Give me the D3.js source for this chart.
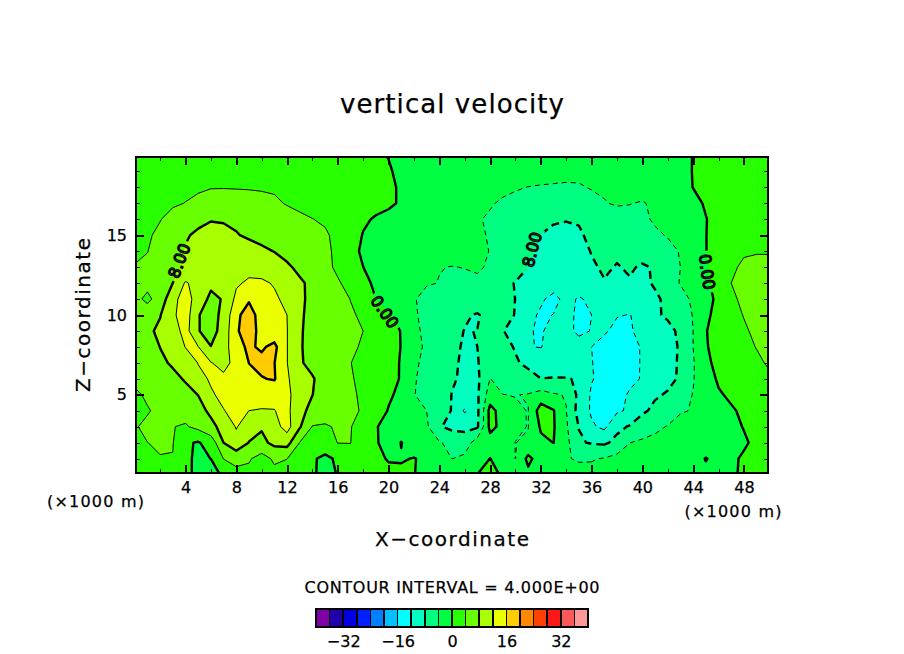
<!DOCTYPE html>
<html>
<head>
<meta charset="utf-8">
<script src="https://cdn.jsdelivr.net/npm/d3@7"></script>
<style>
  body { margin: 0; background: #fff; }
  text { font-family: "DejaVu Sans", sans-serif; fill: #000; stroke: #000; stroke-width: 0.25; }
</style>
</head>
<body>
<svg id="chart" width="904" height="654"></svg>
<script>
// w field, 1 km apart. first row is z=20, last row is z=0, columns x=0..50
var gridRows = [
 [2,2,2,2,2,2,2,2,2,2, 2,2,2,2,2,2,2,2,2,0.5, -0.1,-1,-2,-2,-2,-2,-2,-2,-2,-2, -2,-2,-2,-2,-2,-2,-2,-2,-2,-2, -2,-2,-2,-1,0.1,1,2,2,2,2, 2],
 [2.3,2.5,2.5,2.6,2.7,2.8,2.8,2.8,2.8,2.8, 2.8,2.7,2.6,2.5,2.4,2.2,2,1.6,1.2,0.8, 0.3,-0.7,-1.5,-1.8,-2,-2,-2,-2,-2,-2.2, -2.5,-2.7,-2.9,-3,-3.1,-3.2,-3.1,-3,-2.8,-2.7, -2.5,-2.2,-1.8,-0.9,0.1,1.1,2,2.2,2.2,2.2, 2.2],
 [2.6,2.8,3,3.2,3.5,3.7,3.9,3.9,3.85,3.8, 3.7,3.6,3.4,3.2,3,2.7,2.4,2,1.6,1.1, 0.6,-0.4,-1.4,-2,-2.4,-2.6,-2.8,-3,-3.2,-3.5, -3.8,-4.05,-4.2,-4.3,-4.4,-4.3,-3.8,-3.5,-3.3,-3.2, -2.9,-2.5,-2,-1,0.05,1,2,2.4,2.5,2.5, 2.5],
 [2.8,3,3.3,3.7,4.05,4.5,5,5.2,5.2,5.1, 4.9,4.5,3.8,3.4,3.1,2.8,2.4,2,1.6,1.2, 0.6,-0.4,-1.4,-2,-2.4,-2.7,-3,-3.4,-3.8,-4.3, -4.6,-5,-5.3,-5.6,-5.8,-5.8,-5,-4.2,-3.6,-3.9, -4.2,-3.5,-2.8,-1.8,-0.8,0.3,1.5,2.2,2.5,2.6, 2.6],
 [2.8,3.4,3.9,4.8,5.6,7,7.8,7.7,7.4,7, 6.6,6,5.2,4.5,4.05,3.6,2.8,1.6,0.6,-0.4, -1,-1.5,-1.9,-2.2,-2.6,-3,-3.3,-3.8,-4.3,-5, -5.5,-6.2,-7,-7.5,-7.8,-7.8,-7.4,-6.8,-5.8,-5, -4.6,-3.6,-2.8,-1.8,-1,-0.1,1,2.4,3,3.2, 3.2],
 [3,3.7,4.5,6,7.6,8.7,9.2,8.9,8.2,7.5, 7,6.5,6,5.5,5,4.4,3.2,2,-0.2,-1.2, -1.8,-2.2,-2.5,-2.8,-3,-3.2,-3.4,-3.8,-4.1,-5, -6,-7.2,-8.05,-9,-9.2,-8.3,-7.5,-7,-6.4,-6, -5.2,-4.5,-3.8,-2.8,-1,-0.1,1.9,3,3.3,3.4, 3.4],
 [3.6,3.95,4.9,6.8,8.3,9.6,10.2,10.2,10,9.4, 8.6,7.9,7.2,6.5,5.6,4.5,3.5,1,-0.5,-1.6, -2.2,-2.5,-2.7,-3,-3.1,-3.2,-3.3,-3.5,-4.06,-5.5, -6.5,-7.5,-8.5,-9.5,-10,-9.4,-7.8,-7.2,-7.4,-7, -6.6,-6,-4.9,-3.8,-1.4,-0.1,1.9,3.2,3.8,3.9, 3.9],
 [4.1,4.4,5.5,7.5,8.5,10,11,11.2,11,10.8, 10.4,9.8,8.4,7.4,6.2,5,3.3,1.7,0.02,-1.5, -2.4,-2.8,-3,-3.3,-3.95,-4.05,-3.95,-3.8,-4.2,-6, -7,-8,-9.5,-10,-10.5,-10,-8.5,-7.5,-8.2,-7.6, -8.4,-7.7,-5.6,-4,-2.4,-0.4,1.5,3.7,4.3,4.4, 4.4],
 [4.5,5,6.4,8,12.4,10.6,8.9,9.4,11.5,12.6, 12.6,11.7,10,8.4,7.4,5.6,4.4,2.8,0.9,-0.6, -2,-2.6,-3,-3.8,-4.05,-4.6,-4.4,-4.3,-4.05,-7.4, -8.1,-9,-10,-11,-11,-11,-9,-8.2,-8.4,-8.3, -8.8,-7.6,-5.5,-3.8,-2.6,-0.7,1.5,4,4.6,5, 5],
 [5,3.2,5.5,11,13.5,10.5,7,8.3,12.9,15.5, 14.5,12.6,11.1,8.6,7.2,6,5,3.95,2,0.02, -1.5,-3,-3.8,-4.8,-5.2,-5.5,-5.8,-5.6,-5.5,-6.5, -8.05,-9,-11.7,-12.6,-11.4,-12.2,-11.6,-10.5,-9.5,-9.5, -9.5,-8.6,-7.2,-5.3,-3.4,-1.2,0.8,3.1,5,5.5, 5.5],
 [5.2,6,7.8,11.3,14,8.2,6.5,9,15,18, 14,13.4,12,8.4,7.2,6,5.1,4.3,3.6,2.2, 0.4,-1,-3.7,-4.7,-5.5,-6.2,-7.6,-8.3,-6.8,-7.2, -8.1,-11.4,-12.3,-11.95,-11.4,-12.4,-12,-11,-11.8,-12.1, -11,-8.5,-7.5,-5.2,-3.9,-0.9,1.5,3.5,4.06,5.5, 5.5],
 [5.5,7.2,8.8,10,13.5,8.2,6.5,9.5,15.5,18, 14.5,13.5,12.1,8.4,6.8,6,5.3,4.6,4,2.5, 1,-0.1,-3.4,-4.6,-5.3,-7,-8.1,-7.95,-6.5,-7.9, -8.9,-11.8,-12.3,-11,-11.3,-12.5,-11.9,-11.5,-13,-12.3, -11.2,-8.3,-9,-7.3,-4,-0.2,1.8,3,3.8,4.3, 5],
 [5.2,6.5,8.05,9.8,12.1,12.1,8.1,10,15,16.5, 15.5,17,12.1,8.3,6.9,6,5.2,4.3,3.8,2.6, 1.5,-0.1,-3.2,-4.4,-5.3,-7.2,-8.4,-8,-6.5,-7.2, -8.2,-11.9,-12.1,-11,-10.5,-11,-12,-13.5,-14,-13.5, -11.6,-10,-9,-7.7,-4,-0.4,1.8,3,3.6,4.05, 4.8],
 [5,5.8,7.4,8.4,10,12.1,12.2,10.5,13.5,16.02, 17,16.1,12.1,8.4,7,5.8,4.8,4.05,3.3,2.2, 1,-0.2,-3.6,-4.6,-5.5,-7.6,-8.4,-8.2,-6.2,-6.4, -7.7,-8.6,-10,-10,-10.5,-11,-11.9,-13,-14,-14, -11.5,-10,-9,-7.6,-4.3,-1,1.3,2.5,3.2,3.7, 4.2],
 [4.6,5,6,7.2,8.3,11.2,12.3,13,14,15.5, 15.8,16.3,12.3,10.6,8.3,6.5,5.3,4.3,3.2,2.2, 0.9,-0.2,-3.9,-4.4,-5.6,-7.7,-8.5,-8.8,-3.9,-5.5, -6.5,-7,-7.95,-7.8,-7.8,-8.3,-11.8,-13,-14,-13, -11.7,-10,-8.8,-7.6,-4.2,-1.8,0.5,1.9,2.7,3.2, 3.7],
 [3.5,4.4,4.8,5.8,7,8.05,11.7,12.6,13,14, 14,13,12.9,10,8.05,6.5,5.5,4.6,3.4,2, 0.5,-0.8,-3.9,-4.9,-6,-8.1,-9,-8.6,-2,-3.95, -4.1,-3.8,-2.5,-3.6,-4.2,-9,-12.5,-13.5,-13.5,-11.5, -9.5,-8.4,-7.7,-5.2,-3.9,-1.8,-0.4,0.6,1.5,2.4, 3],
 [2.5,3.8,4.6,5,5.5,7,8.6,11.9,12.8,11.99, 11.7,11.9,13,9,7,5.8,5,4.4,3.8,1.8, -0.2,-1.2,-2.6,-4,-7.5,-8.05,-12.5,-8.8,1.2,-1.5, -3.5,-4.1,2,0.2,-3.9,-9.5,-12.5,-13.5,-12.5,-11.5, -8.6,-7.2,-6,-4.3,-3.8,-2.5,-1.5,-0.4,0.6,1.6, 2.2],
 [3.8,4.5,4.6,4.1,3.6,5,7.2,9,12.3,9.5, 8.4,10.5,13.5,8.4,3.8,3.6,4.4,4.1,3,0.2, -1,-1.5,-2.5,-3.4,-7.7,-9,-9,-8.5,1,-1, -3.4,-4.1,0.5,0.3,-3.5,-8.1,-11.5,-12.8,-8.9,-7.7, -6,-4.8,-3.8,-2.8,-2,-1.5,-1,-0.6,0.1,1, 1.5],
 [3.7,3.98,4.3,4.15,0.5,-0.3,1.5,8,10.5,7.9, 7,9,9.5,3.9,1.5,1.8,4.1,4.05,2.2,0.4, -1.6,0.1,-1.5,-2.4,-3.7,-5,-6,-2,-1.5,-2.5, -4.05,-3.5,-0.8,0.05,-2.8,-7.6,-8.3,-8.6,-7,-4.05, -3.4,-3,-2.6,-2.2,-1.8,-1.5,-1.2,-0.8,-0.3,0.5, 1],
 [3,3.4,3.9,3.9,0.4,-0.4,0.02,4.1,5.5,4.4, 2.5,4.6,4.05,2,0.35,-0.65,0.45,3,2.5,0.9, -0.3,-0.2,0.1,-0.5,-2,-4.05,-3.2,-1.5,0.05,-1.5, -4.05,1,-2,-2.5,-3.8,-4.3,-4.2,-3.8,-2.8,-2.5, -1.8,-1.5,-1.3,-1.2,-1,0.1,-0.7,-0.4,0.3,0.8, 1],
 [2.6,2.8,3,2,0.5,-0.5,-1,0.4,2.5,3, 2,3,2.5,1.5,0.3,-0.7,0.1,1.8,2,1.4, 1,0.5,0.1,-1,-1.5,-2,-1.5,0.02,0.5,-0.2, -1,-1,-1,-1.2,-2,-3,-3.2,-3,-2,-1.2, 0.05,-0.5,-0.8,-0.8,-0.7,-0.5,-0.6,-0.3,0.3,0.6, 0.8]
];

var colorLevels = d3.range(-40, 40, 4);
var levelColors = ["#8000a8", "#2000a8", "#0000e0", "#0020ff", "#0080ff", "#00c0ff", "#00ffff", "#00ffc0", "#00ff80", "#00ff40",
                   "#28ff00", "#68ff00", "#a8ff00", "#eaff00", "#ffcc00", "#ff8800", "#ff4000", "#ff1818", "#ff5858", "#ff9898"];

var xMajor = [4, 8, 12, 16, 20, 24, 28, 32, 36, 40, 44, 48],
    xMinor = [2, 6, 10, 14, 18, 22, 26, 30, 34, 38, 42, 46],
    zMajor = [5, 10, 15],
    zMinor = [1, 2, 3, 4, 6, 7, 8, 9, 11, 12, 13, 14, 16, 17, 18, 19],
    legendTicks = [-32, -16, 0, 16, 32];

// contour labels
var labelText = ["8.00", "0.00", "8.00", "0.00"],
    labelX = [3.5, 19.7, 31.3, 45.1],
    labelZ = [13.4, 10.2, 14.1, 12.7],
    labelAngle = [-69, 55, -75, 82];

var svg = d3.select("#chart");

var x = d3.scaleLinear().domain([0.1, 49.9]).range([136, 768]),
    z = d3.scaleLinear().domain([0.1, 19.9]).range([473, 157]);

var nx = gridRows[0].length,
    nz = gridRows.length,
    values = gridRows.flat();

var contours = d3.contours()
    .size([nx, nz])
    .smooth(true)
    .thresholds(colorLevels)(values);

// d3 puts grid value i at coordinate i+0.5
var project = d3.geoTransform({
    point: function (px, py) {
        this.stream.point(x(px - 0.5), z(nz - 0.5 - py));
    }
});
var path = d3.geoPath(project);

var defs = svg.append("defs");
defs.append("clipPath").attr("id", "plotClip")
    .append("rect")
    .attr("x", x(0.1)).attr("y", z(19.9))
    .attr("width", x(49.9) - x(0.1)).attr("height", z(0.1) - z(19.9));

// contour lines stop under the labels
var mask = defs.append("mask").attr("id", "labelGap")
    .attr("maskUnits", "userSpaceOnUse")
    .attr("x", 0).attr("y", 0).attr("width", 904).attr("height", 654);
mask.append("rect").attr("width", 904).attr("height", 654).attr("fill", "#fff");
labelText.forEach(function (d, i) {
    mask.append("rect")
        .attr("x", -21).attr("y", -8).attr("width", 42).attr("height", 16)
        .attr("fill", "#000")
        .attr("transform", "translate(" + x(labelX[i]) + "," + z(labelZ[i]) + ") rotate(" + labelAngle[i] + ")");
});

var plot = svg.append("g").attr("clip-path", "url(#plotClip)");

plot.append("g").selectAll("path")
    .data(contours)
    .enter()
    .append("path")
    .attr("d", path)
    .attr("fill", function (d, i) { return levelColors[i]; })
    .attr("shape-rendering", "crispEdges");

var lines = contours.filter(function (d) {
    return d.coordinates.length > 0 && d.value >= -12 && d.value <= 16;
});

plot.append("g")
    .attr("mask", "url(#labelGap)")
    .selectAll("path")
    .data(lines)
    .enter()
    .append("path")
    .attr("d", path)
    .attr("fill", "none")
    .attr("stroke", "#000")
    .attr("stroke-linejoin", "round")
    .attr("stroke-width", function (d) { return d.value % 8 === 0 ? 2.4 : 1; })
    .attr("stroke-dasharray", function (d) {
        if (d.value >= 0) return null;
        return d.value % 8 === 0 ? "8,5" : "5,4";
    });

labelText.forEach(function (d, i) {
    svg.append("text")
        .attr("transform", "translate(" + x(labelX[i]) + "," + z(labelZ[i]) + ") rotate(" + labelAngle[i] + ")")
        .attr("text-anchor", "middle")
        .attr("dy", "0.36em")
        .style("font-size", "16px")
        .style("stroke-width", 1.3)
        .style("fill", "none")
        .text(d);
});

// frame and ticks, all pointing inwards
function addAxis(axis, tr, vals, size, weight, labelled) {
    var g = svg.append("g")
        .attr("transform", tr)
        .call(axis.tickValues(vals).tickSizeInner(-size).tickSizeOuter(0).tickPadding(9)
            .tickFormat(labelled ? d3.format("d") : ""));
    g.select(".domain").remove();
    g.selectAll("line").attr("stroke", "#000").attr("stroke-width", weight).attr("shape-rendering", "crispEdges");
    g.selectAll("text").style("font-size", "16px").attr("fill", "#000");
    return g;
}

addAxis(d3.axisBottom(x), "translate(0,473)", xMajor, 8, 2, true);
addAxis(d3.axisBottom(x), "translate(0,473)", xMinor, 4, 1, false);
addAxis(d3.axisTop(x), "translate(0,157)", xMajor, 8, 2, false);
addAxis(d3.axisTop(x), "translate(0,157)", xMinor, 4, 1, false);
addAxis(d3.axisLeft(z), "translate(136,0)", zMajor, 8, 2, true);
addAxis(d3.axisLeft(z), "translate(136,0)", zMinor, 4, 1, false);
addAxis(d3.axisRight(z), "translate(768,0)", zMajor, 8, 2, false);
addAxis(d3.axisRight(z), "translate(768,0)", zMinor, 4, 1, false);

svg.append("rect")
    .attr("x", 136).attr("y", 157).attr("width", 632).attr("height", 316)
    .attr("fill", "none")
    .attr("stroke", "#000")
    .attr("stroke-width", 2.5)
    .attr("shape-rendering", "crispEdges");

function addText(s, px, py, size, len, rotate) {
    svg.append("text")
        .attr("transform", "translate(" + px + "," + py + ")" + (rotate ? " rotate(" + rotate + ")" : ""))
        .attr("text-anchor", "middle")
        .attr("dy", "0.36em")
        .attr("textLength", len)
        .style("font-size", size + "px")
        .text(s);
}

addText("vertical velocity", 452, 104, 26, 224);
addText("X\u2212coordinate", 452, 539, 20, 154);
addText("Z\u2212coordinate", 83, 315, 20, 154, -90);
addText("(\u00d71000 m)", 95.5, 501, 16, 97);
addText("(\u00d71000 m)", 733, 511, 16, 97);
addText("CONTOUR INTERVAL = 4.000E+00", 452, 587, 16, 295);

// colour key
var legendX = d3.scaleLinear().domain([-40, 40]).range([316, 588]);

svg.append("g").selectAll("rect")
    .data(colorLevels)
    .enter()
    .append("rect")
    .attr("x", function (d) { return legendX(d); })
    .attr("y", 609)
    .attr("width", function (d) { return legendX(d + 4) - legendX(d); })
    .attr("height", 18)
    .attr("fill", function (d, i) { return levelColors[i]; })
    .attr("stroke", "#000")
    .attr("stroke-width", 1.5)
    .attr("shape-rendering", "crispEdges");

var legendAxis = svg.append("g")
    .attr("transform", "translate(0,627)")
    .call(d3.axisBottom(legendX).tickValues(legendTicks).tickSize(0).tickPadding(9));
legendAxis.select(".domain").remove();
legendAxis.selectAll("text").style("font-size", "16px").attr("fill", "#000");
</script>
</body>
</html>
